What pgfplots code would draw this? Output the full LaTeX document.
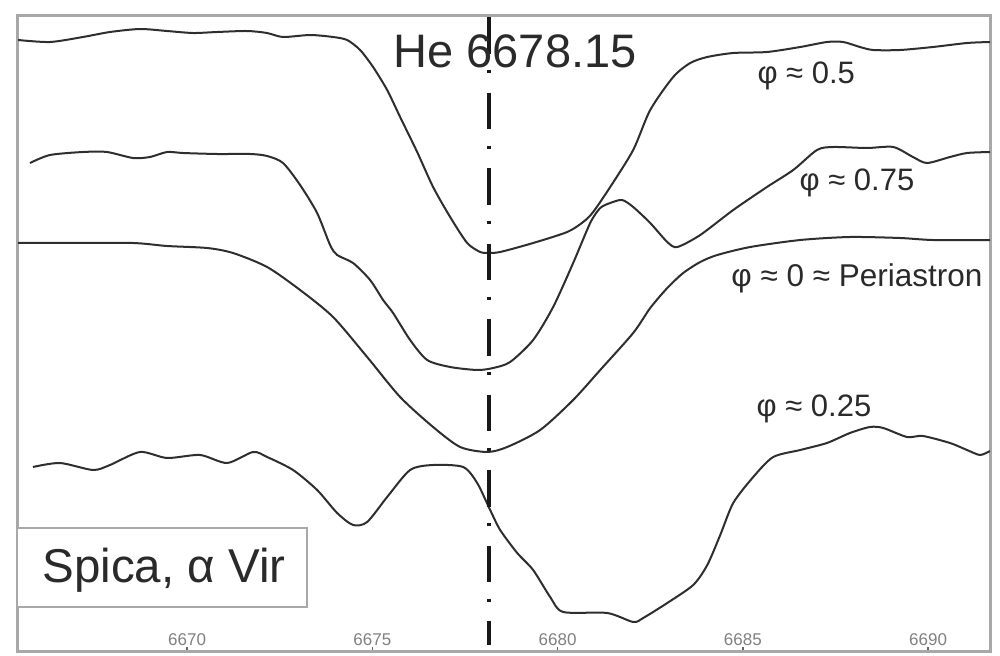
\documentclass[border=0pt]{standalone}
\usepackage{fontspec}
\setmainfont{Liberation Sans}
\usepackage{pgfplots}
\pgfplotsset{compat=1.18}
\definecolor{framegray}{HTML}{A8A8A8}
\definecolor{curvecol}{HTML}{2E2E2E}
\definecolor{txtcol}{HTML}{2A2A2A}
\pgfplotsset{spec/.style={color=curvecol, line width=0.8pt, smooth, tension=0.45, mark=none}}
\begin{document}
\begin{tikzpicture}
\useasboundingbox (0,0) rectangle (400pt,262.4pt);
\begin{axis}[
  at={(6.8pt,1.6pt)}, anchor=south west,
  scale only axis, width=389.2pt, height=254.8pt,
  xmin=6665.41, xmax=6691.67, ymin=4, ymax=641,
  axis line style={framegray, line width=1.2pt},
  xtick={6670,6675,6680,6685,6690},
  xticklabel style={anchor=center, yshift=4.8pt, font=\fontsize{6.8}{8}\selectfont, text=black!50},
  /pgf/number format/assume math mode=true,
  /pgf/number format/1000 sep={},
  ytick=\empty,
  tick align=inside, xtick pos=left, major tick length=2pt,
  tick style={black!60, line width=0.6pt},
]
% phi = 0.5
\addplot[spec] coordinates {
(6665.44,616) (6666.30,614) (6667.19,619) (6667.92,624) (6668.73,627) (6669.46,625)
(6670.16,623) (6670.81,624) (6671.62,625) (6672.16,623) (6672.59,619) (6673.32,621)
(6673.94,619) (6674.32,616) (6674.67,606) (6675.02,589) (6675.40,566) (6675.75,539)
(6676.21,504) (6676.64,469) (6677.10,439) (6677.56,413) (6677.91,404) (6678.10,403)
(6678.45,404) (6679.34,413) (6680.26,424) (6680.69,434) (6680.96,444) (6681.42,469)
(6682.04,506) (6682.50,546) (6683.12,579) (6683.58,593) (6684.04,599) (6684.74,603)
(6685.65,604) (6686.55,609) (6687.27,614) (6687.71,614) (6688.16,609) (6688.52,606)
(6689.24,606) (6690.13,609) (6691.05,613) (6691.67,614)
};
% phi = 0.75
\addplot[spec] coordinates {
(6665.76,493) (6666.30,501) (6667.19,504) (6667.84,504) (6668.54,498) (6669.00,499)
(6669.46,504) (6669.89,503) (6670.81,502) (6671.70,502) (6672.16,500) (6672.59,493)
(6673.05,471) (6673.51,443) (6673.86,411) (6674.05,401) (6674.48,393) (6674.94,376)
(6675.29,356) (6675.56,343) (6676.02,316) (6676.48,296) (6677.10,289) (6677.83,286)
(6678.26,288) (6678.72,294) (6679.34,316) (6679.88,349) (6680.42,393) (6680.88,433)
(6681.15,448) (6681.42,453) (6681.74,456) (6682.04,449) (6682.50,433) (6682.96,414)
(6683.23,409) (6683.85,421) (6684.74,446) (6685.65,469) (6686.36,486) (6687.00,506)
(6687.44,509) (6688.35,508) (6689.06,509) (6689.59,499) (6689.97,493) (6690.59,499)
(6691.05,503) (6691.67,504)
};
% phi = 0 (periastron)
\addplot[spec] coordinates {
(6665.44,413) (6666.76,413) (6668.54,413) (6669.46,410) (6670.54,408) (6671.24,403)
(6672.16,389) (6673.05,366) (6673.94,339) (6674.86,299) (6675.75,259) (6676.64,229)
(6677.37,209) (6678.10,204) (6678.64,209) (6679.53,226) (6680.42,256) (6681.15,286)
(6682.04,323) (6682.50,348) (6682.96,368) (6683.39,383) (6683.85,394) (6684.31,401)
(6685.20,409) (6686.55,416) (6687.89,419) (6689.24,418) (6690.13,416) (6691.67,416)
};
% phi = 0.25
\addplot[spec] coordinates {
(6665.84,189) (6666.57,193) (6667.46,186) (6667.92,191) (6668.73,204) (6669.46,198)
(6670.35,201) (6671.08,193) (6671.78,204) (6672.16,199) (6672.86,186) (6673.51,166)
(6674.05,143) (6674.48,131) (6674.86,134) (6675.40,159) (6676.02,186) (6676.64,191)
(6677.45,189) (6677.83,173) (6678.18,146) (6678.45,126) (6678.91,103) (6679.34,86)
(6679.80,59) (6680.15,44) (6681.34,43) (6682.04,34) (6682.31,38) (6682.96,53)
(6683.66,71) (6684.04,91) (6684.39,121) (6684.74,153) (6685.28,179) (6685.82,199)
(6686.55,206) (6687.27,213) (6687.89,223) (6688.43,229) (6688.79,228) (6689.43,219)
(6689.86,220) (6690.59,213) (6691.05,206) (6691.40,201) (6691.67,205)
};
% He line
\addplot[black!90, line width=1.3pt, line cap=butt, sharp plot, mark=none,
  dash pattern=on 14.6pt off 6.6pt on 1.2pt off 7.8pt]
  coordinates {(6678.15,639) (6678.15,11)};
% Spica box
\draw[framegray, line width=1pt, fill=white] (axis cs:6665.41,128) rectangle (axis cs:6673.24,49);
\node[anchor=center, text=txtcol, font=\fontsize{19}{22}\selectfont] at (axis cs:6669.38,86) {Spica, α Vir};
\node[anchor=west, inner sep=0pt, text=txtcol, font=\fontsize{18.8}{22}\selectfont] at (axis cs:6675.56,605) {He 6678.15};
\node[anchor=center, inner sep=0pt, text=txtcol, font=\fontsize{12.4}{14}\selectfont] at (axis cs:6686.71,580) {φ ≈ 0.5};
\node[anchor=center, inner sep=0pt, text=txtcol, font=\fontsize{12.4}{14}\selectfont] at (axis cs:6688.08,473) {φ ≈ 0.75};
\node[anchor=center, inner sep=0pt, text=txtcol, font=\fontsize{12.6}{14}\selectfont] at (axis cs:6688.08,378) {φ ≈ 0 ≈ Periastron};
\node[anchor=center, inner sep=0pt, text=txtcol, font=\fontsize{12.4}{14}\selectfont] at (axis cs:6686.92,247) {φ ≈ 0.25};
\end{axis}
\end{tikzpicture}
\end{document}
